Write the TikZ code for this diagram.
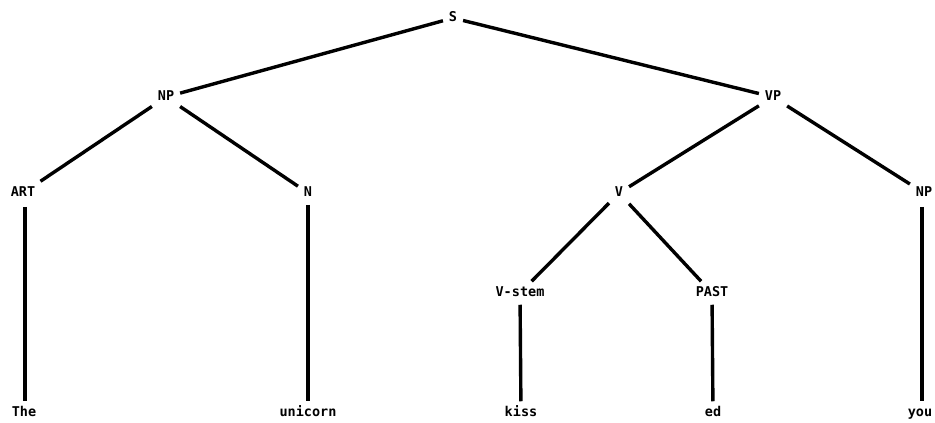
\documentclass[tikz,border=0pt]{standalone}
\usepackage{fontspec}
\setmonofont{DejaVu Sans Mono}
\begin{document}
\begin{tikzpicture}[x=1pt,y=-1pt,
  lab/.style={font=\ttfamily\bfseries\fontsize{13.5}{15}\selectfont, inner sep=0pt, outer sep=6pt, text height=9.5pt, text depth=2pt},
  br/.style={line width=3.4pt}]
\useasboundingbox[fill=white] (0,0) rectangle (935,423);
\node[lab] (S) at (453,18) {S};
\node[lab] (NP) at (166,97) {NP};
\node[lab] (VP) at (773,97) {VP};
\node[lab] (ART) at (23,193) {ART};
\node[lab] (N) at (308,193) {N};
\node[lab] (V) at (619,193) {V};
\node[lab] (NP2) at (924,193) {NP};
\node[lab] (Vstem) at (520,293) {V-stem};
\node[lab] (PAST) at (712,293) {PAST};
\node[lab] (The) at (24,413) {The};
\node[lab] (unicorn) at (308,413) {unicorn};
\node[lab] (kiss) at (521,413) {kiss};
\node[lab] (ed) at (713,413) {ed};
\node[lab] (you) at (920,413) {you};
\draw[br] (S) -- (NP);
\draw[br] (S) -- (VP);
\draw[br] (NP) -- (ART);
\draw[br] (NP) -- (N);
\draw[br] (VP) -- (V);
\draw[br] (VP) -- (NP2);
\draw[br] (V) -- (Vstem);
\draw[br] (V) -- (PAST);
\draw[br] (ART.south -| The.north) ++(1,2) -- ([xshift=1pt]The.north);
\draw[br] (N) -- (unicorn);
\draw[br] (Vstem) -- (kiss);
\draw[br] (PAST) -- (ed);
\draw[br] (NP2.south -| you.north) ++(2,2) -- ([xshift=2pt]you.north);
\end{tikzpicture}
\end{document}
